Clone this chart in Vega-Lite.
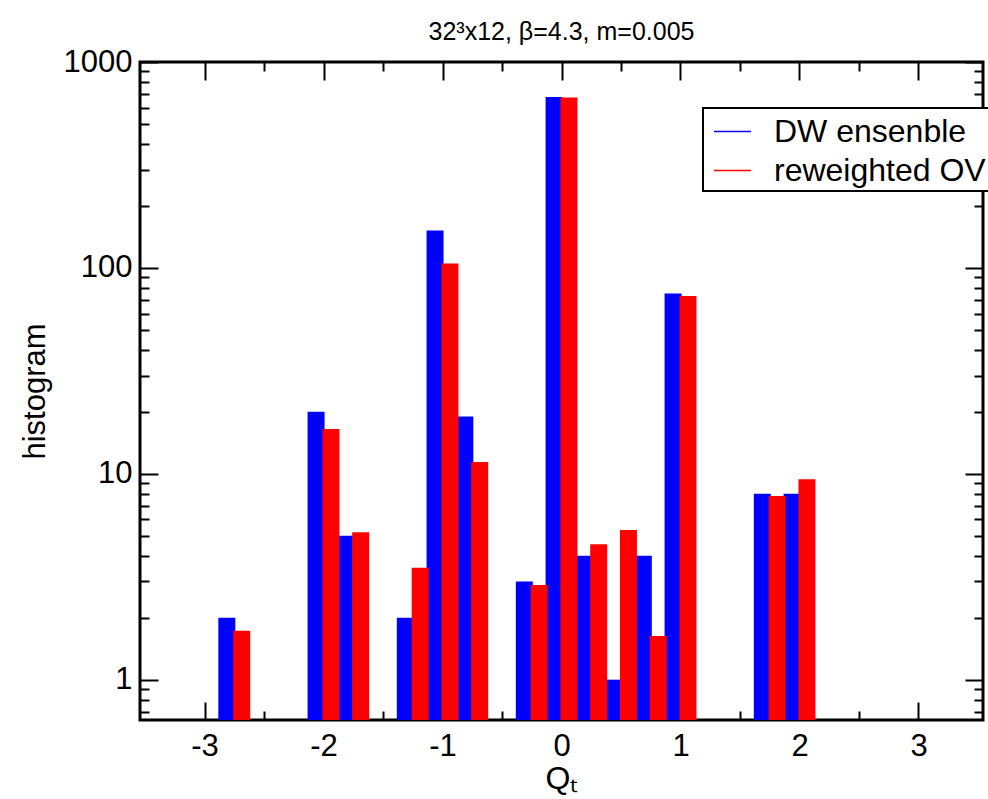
{
  "$schema": "https://vega.github.io/schema/vega-lite/v6.json",
  "width": 843,
  "height": 658,
  "autosize": "none",
  "padding": {"left": 140, "top": 62, "right": 5, "bottom": 79},
  "background": "white",
  "config": {
    "font": "Liberation Sans",
    "view": {"stroke": "black", "strokeWidth": 3},
    "axis": {
      "domain": false,
      "grid": false,
      "tickColor": "black",
      "tickWidth": 2,
      "labelColor": "black",
      "labelFont": "Liberation Sans",
      "labelFontSize": 31,
      "titleFont": "Liberation Sans",
      "titleFontSize": 31,
      "titleFontWeight": "normal",
      "titleColor": "black"
    }
  },
  "title": {
    "text": "32³x12, β=4.3, m=0.005",
    "font": "Liberation Sans",
    "fontSize": 25,
    "fontWeight": "normal",
    "color": "black",
    "anchor": "middle",
    "offset": 5,
    "dy": 4
  },
  "data": {
    "values": [
      {"Q": -2.8125, "count": 2, "series": "DW ensenble"},
      {"Q": -2.0625, "count": 20, "series": "DW ensenble"},
      {"Q": -1.8125, "count": 5, "series": "DW ensenble"},
      {"Q": -1.3125, "count": 2, "series": "DW ensenble"},
      {"Q": -1.0625, "count": 152, "series": "DW ensenble"},
      {"Q": -0.8125, "count": 19, "series": "DW ensenble"},
      {"Q": -0.3125, "count": 3, "series": "DW ensenble"},
      {"Q": -0.0625, "count": 676, "series": "DW ensenble"},
      {"Q": 0.1875, "count": 4, "series": "DW ensenble"},
      {"Q": 0.4375, "count": 1, "series": "DW ensenble"},
      {"Q": 0.6875, "count": 4, "series": "DW ensenble"},
      {"Q": 0.9375, "count": 75, "series": "DW ensenble"},
      {"Q": 1.6875, "count": 8, "series": "DW ensenble"},
      {"Q": 1.9375, "count": 8, "series": "DW ensenble"},
      {"Q": -2.6875, "count": 1.73, "series": "reweighted OV"},
      {"Q": -1.9375, "count": 16.5, "series": "reweighted OV"},
      {"Q": -1.6875, "count": 5.2, "series": "reweighted OV"},
      {"Q": -1.1875, "count": 3.5, "series": "reweighted OV"},
      {"Q": -0.9375, "count": 105, "series": "reweighted OV"},
      {"Q": -0.6875, "count": 11.4, "series": "reweighted OV"},
      {"Q": -0.1875, "count": 2.88, "series": "reweighted OV"},
      {"Q": 0.0625, "count": 672, "series": "reweighted OV"},
      {"Q": 0.3125, "count": 4.55, "series": "reweighted OV"},
      {"Q": 0.5625, "count": 5.33, "series": "reweighted OV"},
      {"Q": 0.8125, "count": 1.63, "series": "reweighted OV"},
      {"Q": 1.0625, "count": 73, "series": "reweighted OV"},
      {"Q": 1.8125, "count": 7.8, "series": "reweighted OV"},
      {"Q": 2.0625, "count": 9.4, "series": "reweighted OV"}
    ]
  },
  "layer": [
    {
      "mark": {"type": "bar", "width": 17},
      "encoding": {
        "x": {
          "field": "Q", "type": "quantitative",
          "scale": {"domain": [-3.5, 3.5], "nice": false, "zero": false},
          "axis": {
            "orient": "bottom", "values": [-3, -2, -1, 0, 1, 2, 3],
            "labelExpr": "'' + datum.value", "tickSize": -18, "labelPadding": 29,
            "title": "Qₜ", "titleFontSize": 32, "titleBaseline": "alphabetic", "titleY": 68
          }
        },
        "y": {
          "field": "count", "type": "quantitative",
          "scale": {"type": "log", "domain": [0.637, 1000], "nice": false},
          "axis": {
            "orient": "left", "values": [1, 10, 100, 1000],
            "labelExpr": "'' + datum.value", "tickSize": -18, "labelPadding": 26,
            "title": "histogram", "titleBaseline": "alphabetic", "titleX": -96
          }
        },
        "y2": {"datum": 0.637},
        "color": {
          "field": "series", "type": "nominal",
          "scale": {"domain": ["DW ensenble", "reweighted OV"], "range": ["#0000ff", "#ff0000"]},
          "legend": {
            "title": null,
            "orient": "none",
            "legendX": 563,
            "legendY": 46,
            "direction": "vertical",
            "fillColor": "white",
            "strokeColor": "black",
            "padding": 4,
            "symbolOffset": 6,
            "symbolType": "stroke",
            "symbolSize": 1369,
            "symbolStrokeWidth": 1.5,
            "labelFont": "Liberation Sans",
            "labelFontSize": 32,
            "labelColor": "black",
            "labelOffset": 22,
            "labelLimit": 0,
            "rowPadding": 3,
            "encode": {
              "symbols": {"update": {"stroke": {"field": "value", "scale": "color"}, "fill": {"value": "transparent"}, "strokeWidth": {"value": 1.5}}},
              "legend": {"update": {"strokeWidth": {"value": 2}}}
            }
          }
        }
      }
    },
    {
      "mark": {"type": "point", "opacity": 0},
      "encoding": {
        "x": {"field": "Q", "type": "quantitative",
          "axis": {"orient": "bottom", "values": [-2.5, -1.5, -0.5, 0.5, 1.5, 2.5], "labels": false, "tickSize": -9, "title": null}},
        "y": {"field": "count", "type": "quantitative",
          "axis": {"orient": "left", "values": [0.7, 0.8, 0.9, 2, 3, 4, 5, 6, 7, 8, 9, 20, 30, 40, 50, 60, 70, 80, 90, 200, 300, 400, 500, 600, 700, 800, 900], "labels": false, "tickSize": -9, "title": null}}
      }
    },
    {
      "mark": {"type": "point", "opacity": 0},
      "encoding": {
        "x": {"field": "Q", "type": "quantitative",
          "axis": {"orient": "top", "values": [-3, -2, -1, 0, 1, 2, 3], "labels": false, "tickSize": -18, "title": null}},
        "y": {"field": "count", "type": "quantitative",
          "axis": {"orient": "right", "values": [1, 10, 100, 1000], "labels": false, "tickSize": -18, "title": null}}
      }
    },
    {
      "mark": {"type": "point", "opacity": 0},
      "encoding": {
        "x": {"field": "Q", "type": "quantitative",
          "axis": {"orient": "top", "values": [-2.5, -1.5, -0.5, 0.5, 1.5, 2.5], "labels": false, "tickSize": -9, "title": null}},
        "y": {"field": "count", "type": "quantitative",
          "axis": {"orient": "right", "values": [0.7, 0.8, 0.9, 2, 3, 4, 5, 6, 7, 8, 9, 20, 30, 40, 50, 60, 70, 80, 90, 200, 300, 400, 500, 600, 700, 800, 900], "labels": false, "tickSize": -9, "title": null}}
      }
    }
  ],
  "resolve": {"axis": {"x": "independent", "y": "independent"}}
}
